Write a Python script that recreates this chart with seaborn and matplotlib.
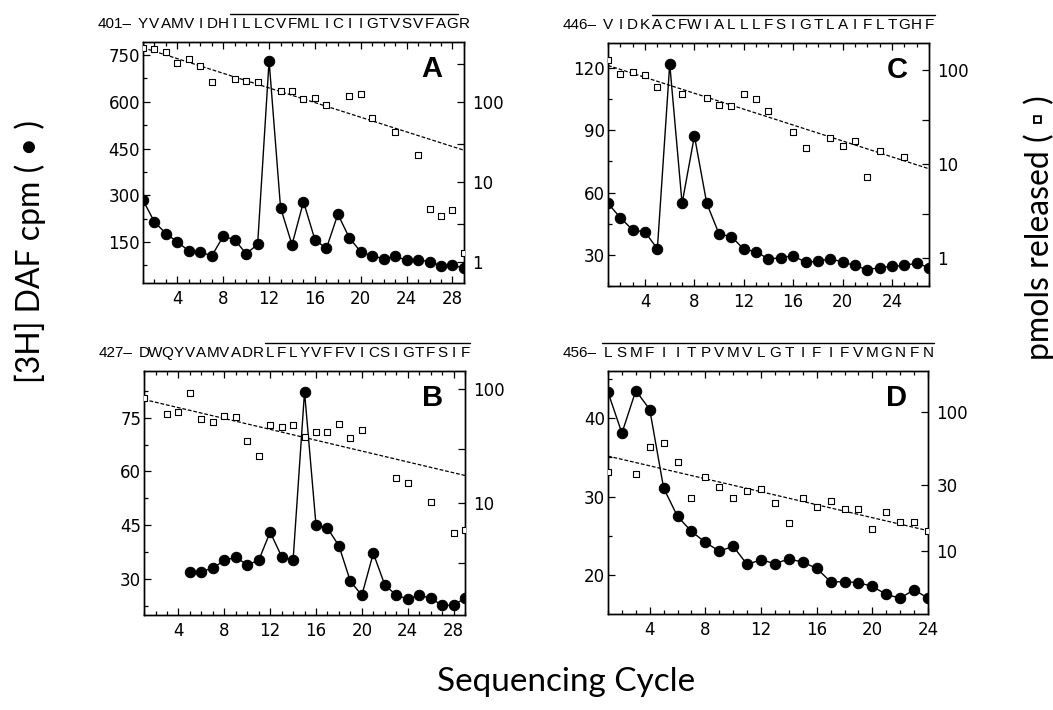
import matplotlib
matplotlib.use('Agg')
import matplotlib.pyplot as plt
import matplotlib.transforms as mtrans
from matplotlib.ticker import MultipleLocator, FixedLocator, NullLocator
import numpy as np
import seaborn as sns

sns.set_theme(style='ticks')
plt.rcParams['font.family'] = ['DejaVu Sans']
plt.rcParams['text.color'] = 'black'

# ---- panel A ----
seqA = 'YVAMVIDHILLCVFMLICIIGTVSVFAGR'
cycA = list(range(1, 30))
cpmA = [284, 214, 177, 150, 121, 118, 105, 168, 157, 112, 142, 732, 260, 141, 279,
        157, 129, 239, 163, 118, 105, 96, 104, 91, 93, 86, 74, 75, 66]
sqxA = [1, 2, 3, 4, 5, 6, 7, 9, 10, 11, 13, 14, 15, 16, 17, 19, 20, 21, 23, 25, 26, 27, 28, 29]
pmolA = [467, 454, 424, 303, 343, 283, 177, 196, 185, 178, 139, 136, 108, 112, 92,
         118, 126, 63, 42, 21.8, 4.6, 3.8, 4.5, 1.3]
fitA = [476, 25]

# ---- panel B ----
seqB = 'DWQYVAMVADRLFLYVFFVICSIGTFSIF'
cycB = list(range(5, 30))
cpmB = [32.1, 32.1, 33.1, 35.2, 36.1, 34.0, 35.2, 43.1, 36.3, 35.2, 82.2, 45.1, 44.2,
        39.3, 29.4, 25.5, 37.2, 28.4, 25.5, 24.5, 25.5, 24.7, 22.7, 22.7, 24.7]
sqxB = [1, 3, 4, 5, 6, 7, 8, 9, 10, 11, 12, 13, 14, 15, 16, 17, 18, 19, 20, 23, 24, 26, 28, 29]
pmolB = [84, 60, 62.5, 91.6, 55, 51, 58.5, 57, 34.8, 26, 48.4, 46.9, 48.8, 38.3, 42.4,
         42.4, 49, 37.5, 43.5, 16.7, 14.9, 10.2, 5.5, 5.8]
fitB = [81, 17.5]

# ---- panel C ----
seqC = 'VIDKACFWIALLLFSIGTLAIFLTGHF'
cycC = list(range(1, 28))
cpmC = [54.8, 47.9, 42.0, 41.0, 32.9, 122, 54.8, 87.3, 54.8, 40.0, 38.8, 32.7, 31.6, 27.9,
        28.7, 29.5, 26.5, 26.8, 28.2, 26.5, 24.9, 22.8, 23.9, 24.4, 24.9, 26.0, 23.9]
sqxC = [1, 2, 3, 4, 5, 7, 9, 10, 11, 12, 13, 14, 16, 17, 19, 20, 21, 22, 23, 25]
pmolC = [130, 91, 96, 90, 66, 56, 51, 43, 41.5, 55.6, 50, 37, 22, 15, 19, 15.8, 17.9,
         7.4, 13.9, 11.9]
fitC = [113, 9.0]

# ---- panel D ----
seqD = 'LSMFIITPVMVLGTIFIFVMGNFN'
cycD = list(range(1, 25))
cpmD = [43.3, 38.1, 43.5, 41.1, 31.1, 27.5, 25.6, 24.2, 23.1, 23.7, 21.4, 22.0, 21.5,
        22.1, 21.7, 20.9, 19.2, 19.2, 19.1, 18.6, 17.6, 17.1, 18.2, 17.1]
sqxD = [1, 3, 4, 5, 6, 7, 8, 9, 10, 11, 12, 13, 14, 15, 16, 17, 18, 19, 20, 21, 22, 23, 24]
pmolD = [36.7, 35.7, 55.4, 59.2, 43.7, 23.9, 33.8, 29, 23.9, 27, 27.9, 22, 16, 23.9,
         20.8, 23, 20, 20, 14.4, 19, 16.1, 16.1, 14]
fitD = [48, 14]

panels = [
    dict(tag='A', num='401\u2013', seq=seqA, tm=(9, 28), cyc=cycA, cpm=cpmA, sqx=sqxA,
         pmol=pmolA, fit=fitA, rect=[0.1358, 0.6014, 0.3048, 0.3394], xmax=29,
         ylim=(18, 792), step=150, lt=[150, 300, 450, 600, 750], rylim=(0.55, 560),
         rt=[1, 3, 10, 30, 100, 300], rl=['1', '', '10', '', '100', '']),
    dict(tag='C', num='446\u2013', seq=seqC, tm=(5, 27), cyc=cycC, cpm=cpmC, sqx=sqxC,
         pmol=pmolC, fit=fitC, rect=[0.5774, 0.5972, 0.3048, 0.3420], xmax=27,
         ylim=(15, 132), step=30, lt=[30, 60, 90, 120], rylim=(0.51, 195),
         rt=[1, 3, 10, 30, 100], rl=['1', '', '10', '', '100']),
    dict(tag='B', num='427\u2013', seq=seqB, tm=(12, 29), cyc=cycB, cpm=cpmB, sqx=sqxB,
         pmol=pmolB, fit=fitB, rect=[0.1368, 0.1338, 0.3048, 0.3437], xmax=29,
         ylim=(20, 88), step=15, lt=[30, 45, 60, 75], rylim=(1.05, 144),
         rt=[3, 10, 30, 100], rl=['', '10', '', '100']),
    dict(tag='D', num='456\u2013', seq=seqD, tm=(1, 24), cyc=cycD, cpm=cpmD, sqx=sqxD,
         pmol=pmolD, fit=fitD, rect=[0.5774, 0.1352, 0.3039, 0.3423], xmax=24,
         ylim=(15.1, 46), step=10, lt=[20, 30, 40], rylim=(3.53, 196),
         rt=[10, 30, 100], rl=['10', '30', '100']),
]

fig = plt.figure(figsize=(10.53, 7.1), dpi=100)
seqfont = ['Liberation Sans', 'DejaVu Sans']

for p in panels:
    ax = fig.add_axes(p['rect'])
    ax2 = ax.twinx()

    sns.lineplot(x=p['cyc'], y=p['cpm'], ax=ax, color='black', linewidth=1.0,
                 marker='o', markersize=7.5, markeredgecolor='black', sort=False)
    sns.scatterplot(x=p['sqx'], y=p['pmol'], ax=ax2, marker='s', s=14,
                    facecolor='white', edgecolor='black', linewidth=0.8, zorder=3)
    sns.lineplot(x=[1, p['xmax']], y=p['fit'], ax=ax2, color='black', linewidth=0.9,
                 linestyle=(0, (3, 1.5)))

    ax.set_xlim(1, p['xmax'])
    ax.set_ylim(*p['ylim'])
    ax2.set_yscale('log')
    ax2.set_ylim(*p['rylim'])

    ax.xaxis.set_major_locator(FixedLocator(list(range(4, p['xmax'] + 1, 4))))
    ax.xaxis.set_minor_locator(MultipleLocator(1))
    ax.yaxis.set_major_locator(FixedLocator(p['lt']))
    ax.yaxis.set_minor_locator(MultipleLocator(p['step'] / 2))
    ax2.yaxis.set_major_locator(FixedLocator(p['rt']))
    ax2.set_yticklabels(p['rl'])
    ax2.yaxis.set_minor_locator(NullLocator())

    ax.tick_params(axis='x', which='both', direction='in', top=True, bottom=True,
                   labelsize=12, pad=5, colors='black')
    ax.tick_params(axis='y', which='both', direction='in', left=True, right=False,
                   labelsize=12, pad=2, colors='black')
    ax.tick_params(which='major', length=5, width=0.9)
    ax.tick_params(which='minor', length=3, width=0.9)
    ax2.tick_params(axis='y', which='major', direction='in', length=5, width=0.9,
                    labelsize=12, pad=6, colors='black')
    for a in (ax, ax2):
        for s in a.spines.values():
            s.set_linewidth(1.0)
            s.set_color('black')
    ax.set_xlabel('')
    ax.set_ylabel('')
    ax2.set_ylabel('')

    trans = mtrans.blended_transform_factory(ax.transData, ax.transAxes)
    for i, ch in enumerate(p['seq']):
        ax.text(i + 1, 1.058, ch, transform=trans, ha='center', va='baseline',
                fontsize=11, family=seqfont, color='black', clip_on=False)
    ax.text(-0.035, 1.058, p['num'], transform=ax.transAxes, ha='right',
            va='baseline', fontsize=11, family=seqfont, color='black')
    ax.plot([p['tm'][0] - 0.45, p['tm'][1] + 0.45], [1.115, 1.115], transform=trans,
            color='black', linewidth=1.0, clip_on=False)

    ax.text(0.9, 0.89, p['tag'], transform=ax.transAxes, ha='center', va='center',
            fontsize=21, fontweight='bold', family=seqfont, color='black')

labfont = ['Lato', 'DejaVu Sans']
fig.text(0.029, 0.646, '[3H] DAF cpm ( \u2022 )', rotation=90, ha='center', va='center',
         fontsize=23, fontweight='normal', family=labfont, color='black')
fig.text(0.987, 0.68, 'pmols released ( \u25ab )', rotation=90, ha='center', va='center',
         fontsize=23, fontweight='normal', family=labfont, color='black')
fig.text(0.538, 0.04, 'Sequencing Cycle', ha='center', va='center', fontsize=24,
         fontweight='normal', family=labfont, color='black')

fig.savefig('out.png', dpi=100, facecolor='white')
